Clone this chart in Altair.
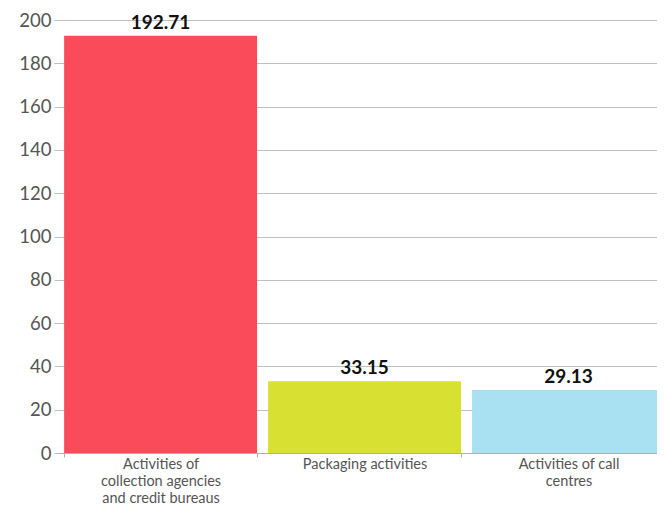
import altair as alt
import pandas as pd

categories = [
    "Activities of\ncollection agencies\nand credit bureaus",
    "Packaging activities",
    "Activities of call\ncentres",
]
values = [192.71, 33.15, 29.13]
colors = ["#FA4B5B", "#D8E032", "#A9E1F3"]
y_ticks = [0, 20, 40, 60, 80, 100, 120, 140, 160, 180, 200]

df = pd.DataFrame({
    "category": categories,
    "value": values,
    "color": colors,
    "label": [f"{v:.2f}" for v in values],
})

FONT = "Lato"

x_scale = alt.Scale(range=[0, 607], paddingInner=0.054, paddingOuter=0.015, align=1)

x_enc = alt.X(
    "category:N",
    sort=categories,
    scale=x_scale,
    axis=alt.Axis(
        title=None,
        labelAngle=0,
        labelExpr="split(datum.label, '\\n')",
        labelLineHeight=17,
        labelBaseline="top",
        labelFont=FONT,
        labelFontSize=14.5,
        labelColor="#555555",
        labelPadding=0,
        tickBand="extent",
        tickSize=4,
        tickColor="#b0b0b0",
        domainColor="#b0b0b0",
        grid=False,
    ),
)

y_enc = alt.Y(
    "value:Q",
    scale=alt.Scale(domain=[0, 200], nice=False),
    axis=alt.Axis(
        title=None,
        values=y_ticks,
        labelFont=FONT,
        labelFontSize=18.5,
        labelColor="#555555",
        labelPadding=3,
        tickSize=4,
        tickColor="#c0c0c0",
        gridColor="#c0c0c0",
        domain=False,
    ),
)

bars = alt.Chart(df).mark_bar().encode(
    x=x_enc,
    y=y_enc,
    color=alt.Color("color:N", scale=None),
)

text = alt.Chart(df).mark_text(
    baseline="bottom", dy=-3, fontWeight="bold", fontSize=19, font=FONT, color="#111111"
).encode(
    x=alt.X("category:N", sort=categories),
    y=alt.Y("value:Q"),
    text="label:N",
)

chart = (
    alt.layer(bars, text)
    .properties(
        width=599,
        height=433,
        autosize=alt.AutoSizeParams(type="none"),
        padding={"left": 50, "top": 12, "right": 0, "bottom": 54},
    )
    .configure_view(stroke=None)
)

chart.save("out.html", embed_options={"renderer": "svg", "actions": False})
